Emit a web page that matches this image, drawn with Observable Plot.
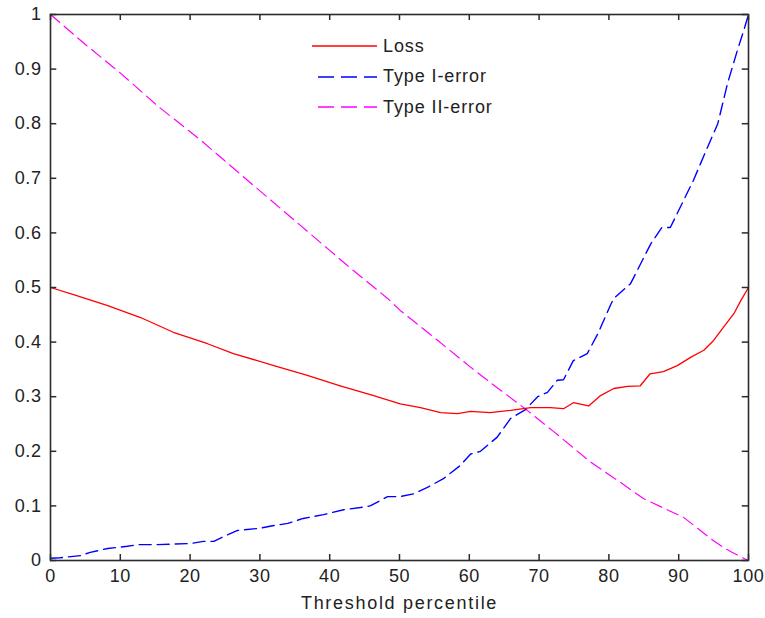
<!DOCTYPE html>
<html>
<head>
<meta charset="utf-8">
<script src="https://cdn.jsdelivr.net/npm/d3@7"></script>
<script src="https://cdn.jsdelivr.net/npm/@observablehq/plot@0.6"></script>
<style>
  html, body { margin: 0; padding: 0; background: #fff; }
  #wrap { position: relative; width: 765px; height: 618px; font-family: "Liberation Sans", Arial, sans-serif; }
  #legend { position: absolute; left: 310px; top: 31px; font-size: 18px; letter-spacing: 0.9px; color: #222; }
  #legend .row { display: flex; align-items: center; height: 30.5px; }
  #legend svg { width: 70px; height: 10px; margin-right: 3px; }
</style>
</head>
<body>
<div id="wrap"><div id="chart"></div><div id="legend"></div></div>
<script>
// Threshold percentile / Loss
const lossX = [0,3.3,8.2,12.9,17.6,22.5,26.2,32,36.8,41.5,46.3,50.1,53,55.9,58.3,60.2,63,65.9,68.8,71.6,73.5,74.9,77.1,78.8,80.7,82.7,84.5,85.9,87.8,89.8,91.7,93.6,95,96.4,97.9,98.9,100];
const lossY = [0.5,0.487,0.467,0.445,0.418,0.397,0.379,0.357,0.339,0.32,0.302,0.287,0.28,0.271,0.269,0.273,0.271,0.275,0.28,0.28,0.278,0.289,0.283,0.302,0.315,0.319,0.32,0.342,0.346,0.357,0.372,0.385,0.403,0.427,0.452,0.476,0.5];

// Type I-error
const type1X = [0,1.4,4.3,5.7,8.2,11,12.5,15.3,20,21.9,23.4,24.8,26.8,30,32,34,36.2,39.1,42,44.4,45.8,48.3,50.1,52,54,56.3,58.7,60.2,61.6,64,65.9,68,69.8,71.2,72.6,73.5,74.9,76.9,78.4,80.2,80.7,83.1,86,87.6,88.8,92.1,94.1,95.6,97,98.4,99.3,100];
const type1Y = [0.004,0.005,0.009,0.015,0.022,0.026,0.029,0.029,0.031,0.035,0.035,0.044,0.055,0.059,0.064,0.068,0.077,0.084,0.093,0.097,0.1,0.117,0.117,0.122,0.134,0.15,0.174,0.195,0.2,0.226,0.26,0.276,0.3,0.308,0.33,0.331,0.366,0.379,0.415,0.467,0.48,0.507,0.58,0.61,0.61,0.696,0.756,0.8,0.874,0.934,0.97,1.0];

// Type II-error
const type2X = [0,5,10,15.3,21.5,30,40,43.4,48.3,50.1,55,60,62.6,65.5,68.3,72,77.4,81.2,85,90.7,95,96.4,97.5,99.3,100];
const type2Y = [1.0,0.945,0.893,0.833,0.77,0.677,0.568,0.531,0.48,0.458,0.408,0.356,0.33,0.302,0.275,0.237,0.18,0.147,0.113,0.079,0.036,0.024,0.016,0.004,0];

const xTicks = [0,10,20,30,40,50,60,70,80,90,100];
const yTicks = [0,0.1,0.2,0.3,0.4,0.5,0.6,0.7,0.8,0.9,1];
const xLabel = "Threshold percentile";

const seriesNames = ["Loss", "Type I-error", "Type II-error"];
const seriesColors = ["#ff0000", "#0000ff", "#ff00ff"];
const seriesDash = [null, "12,6", "12,6"];

const toRows = (xs, ys) => xs.map((x, i) => ({x, y: ys[i]}));
const loss = toRows(lossX, lossY);
const t1 = toRows(type1X, type1Y);
const t2 = toRows(type2X, type2Y);

const axisColor = "#2b2b2b";
const chart = Plot.plot({
  width: 765,
  height: 618,
  marginLeft: 50,
  marginRight: 17,
  marginTop: 14,
  marginBottom: 58,
  style: {fontFamily: "'Liberation Sans', Arial, sans-serif", fontSize: "18px", color: "#222", background: "#fff", letterSpacing: "0.6px"},
  x: {domain: [0, 100], ticks: xTicks, label: null},
  y: {domain: [0, 1], ticks: yTicks, label: null},
  marks: [
    Plot.line(t2, {x: "x", y: "y", stroke: seriesColors[2], strokeWidth: 1.2, strokeDasharray: seriesDash[2]}),
    Plot.line(t1, {x: "x", y: "y", stroke: seriesColors[1], strokeWidth: 1.4, strokeDasharray: seriesDash[1]}),
    Plot.line(loss, {x: "x", y: "y", stroke: seriesColors[0], strokeWidth: 1.3}),
    // inward ticks
    Plot.ruleX(xTicks, {x: d => d, y1: 0, y2: 0.011, stroke: axisColor, strokeWidth: 1.5}),
    Plot.ruleX(xTicks, {x: d => d, y1: 1, y2: 0.989, stroke: axisColor, strokeWidth: 1.5}),
    Plot.ruleY(yTicks, {y: d => d, x1: 0, x2: 0.9, stroke: axisColor, strokeWidth: 1.5}),
    Plot.ruleY(yTicks, {y: d => d, x1: 100, x2: 99.1, stroke: axisColor, strokeWidth: 1.5}),
    Plot.axisX({ticks: xTicks, tickSize: 0, tickPadding: 9, label: null, fill: "#222", tickFormat: d => String(d)}),
    Plot.axisY({ticks: yTicks, tickSize: 0, tickPadding: 9, label: null, fill: "#222", tickFormat: d => String(d)}),
    Plot.text([xLabel], {frameAnchor: "bottom", dy: 48, text: d => d, fill: "#222", fontSize: 18, className: "xlabel"}),
    Plot.frame({stroke: axisColor, strokeWidth: 1.6})
  ]
});
document.getElementById("chart").appendChild(chart);
d3.select(chart).selectAll("text").filter(function() { return this.textContent === xLabel; }).attr("letter-spacing", "1.7px").style("letter-spacing", "1.7px");

// legend overlay
const legend = document.getElementById("legend");
seriesNames.forEach((name, i) => {
  const row = document.createElement("div");
  row.className = "row";
  const dash = seriesDash[i] ? `stroke-dasharray="16,7"` : "";
  const x1 = seriesDash[i] ? 8 : 2;
  row.innerHTML = `<svg viewBox="0 0 70 10"><line x1="${x1}" y1="5" x2="67" y2="5" stroke="${seriesColors[i]}" stroke-width="1.5" ${dash}/></svg><span>${name}</span>`;
  legend.appendChild(row);
});
</script>
</body>
</html>
